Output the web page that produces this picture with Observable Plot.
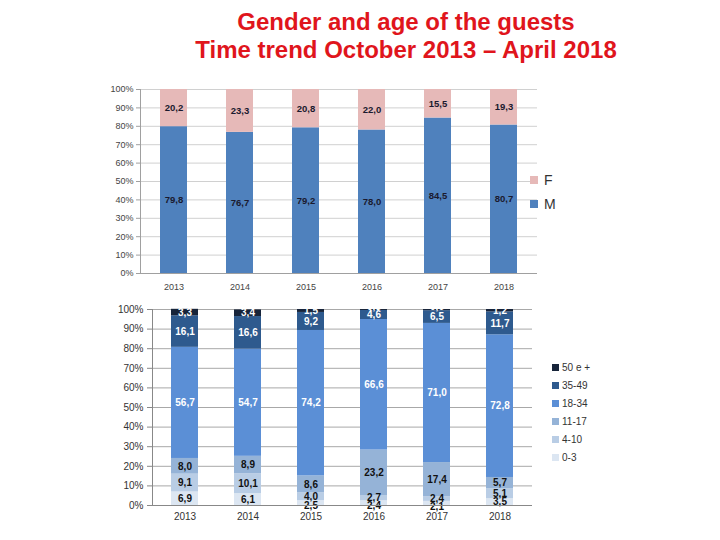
<!DOCTYPE html>
<html><head><meta charset="utf-8">
<script src="https://cdn.jsdelivr.net/npm/d3@7"></script>
<script src="https://cdn.jsdelivr.net/npm/@observablehq/plot@0.6"></script>
<style>
body{margin:0;background:#fff;font-family:"Liberation Sans",Arial,sans-serif;}
#wrap{position:relative;width:720px;height:540px;overflow:hidden;}
.title{position:absolute;left:0;width:812px;text-align:center;color:#e0151c;font-weight:bold;font-size:24px;line-height:28px;}
.lg{position:absolute;display:flex;align-items:center;color:#333;}
.sw{display:inline-block;}
</style></head>
<body><div id="wrap">
<div class="title" style="top:8px">Gender and age of the guests<br>Time trend October 2013 – April 2018</div>
</div>
<script>
const years = ["2013","2014","2015","2016","2017","2018"];
const genderGroups = ["M","F"];
const genderM = [79.8, 76.7, 79.2, 78.0, 84.5, 80.7];
const genderF = [20.2, 23.3, 20.8, 22.0, 15.5, 19.3];
const genderColors = ["#4f81bd","#e6b9b8"];

const ageGroups = ["0-3","4-10","11-17","18-34","35-49","50 e +"];
const age0_3   = [6.9, 6.1, 2.5, 2.4, 2.1, 3.5];
const age4_10  = [9.1, 10.1, 4.0, 2.7, 2.4, 5.1];
const age11_17 = [8.0, 8.9, 8.6, 23.2, 17.4, 5.7];
const age18_34 = [56.7, 54.7, 74.2, 66.6, 71.0, 72.8];
const age35_49 = [16.1, 16.6, 9.2, 4.6, 6.5, 11.7];
const age50p   = [3.3, 3.4, 1.5, 0.5, 0.6, 1.2];
const ageColors = ["#dce6f2","#b9cde5","#95b3d7","#5b8fd6","#2e5a8e","#17243a"];
const ageWhiteLabels = ["18-34","35-49","50 e +"];

const pctTicks = [0,10,20,30,40,50,60,70,80,90,100];

const fmt = v => d3.format(".1f")(v).replace(".", ",");
const genderData = [];
[genderM, genderF].forEach((arr, gi) => arr.forEach((v, i) => genderData.push({year: years[i], group: genderGroups[gi], value: v})));
const ageData = [];
[age0_3, age4_10, age11_17, age18_34, age35_49, age50p].forEach((arr, gi) => arr.forEach((v, i) => ageData.push({year: years[i], group: ageGroups[gi], value: v})));

const wrap = document.getElementById("wrap");

// Top chart
const topChart = Plot.plot({
  width: 720, height: 215,
  marginLeft: 140, marginRight: 183, marginTop: 9, marginBottom: 22,
  style: {fontFamily: "'Liberation Sans', Arial, sans-serif", fontSize: "9px", color: "#444", background: "transparent"},
  x: {domain: years, paddingInner: 0.59, paddingOuter: 0.295, label: null},
  y: {domain: [0, 100], ticks: pctTicks, label: null},
  color: {domain: genderGroups, range: genderColors},
  marks: [
    Plot.gridY(pctTicks, {stroke: "#d0d0d0", strokeOpacity: 1}),
    Plot.barY(genderData, {x: "year", y: "value", fill: "group", order: genderGroups}),
    Plot.text(genderData, Plot.stackY({x: "year", y: "value", z: "group", order: genderGroups, text: d => fmt(d.value), fill: "#1a1a2e", fontWeight: "bold", fontSize: 9.5})),
    Plot.ruleY([0], {stroke: "#a0a0a0"}),
    Plot.frame({anchor: "left", stroke: "#a0a0a0"}),
    Plot.axisY(pctTicks, {tickFormat: d => d + "%", tickSize: 4, tickPadding: 3, stroke: "#a0a0a0", fill: "#444"}),
    Plot.axisX({tickSize: 0, tickPadding: 10, fill: "#444"})
  ]
});
topChart.style.position = "absolute"; topChart.style.left = "0px"; topChart.style.top = "80px";
wrap.appendChild(topChart);

// Bottom chart
const stackOpts = (text, extra) => Plot.stackY({x: "year", y: "value", z: "group", order: ageGroups, text, fontWeight: "bold", fontSize: 10, ...extra});
const botChart = Plot.plot({
  width: 720, height: 225,
  marginLeft: 152, marginRight: 188, marginTop: 9, marginBottom: 20,
  style: {fontFamily: "'Liberation Sans', Arial, sans-serif", fontSize: "10px", color: "#444", background: "transparent", overflow: "visible"},
  x: {domain: years, paddingInner: 0.57, paddingOuter: 0.285, label: null},
  y: {domain: [0, 100], ticks: pctTicks, label: null},
  color: {domain: ageGroups, range: ageColors},
  marks: [
    Plot.gridY(pctTicks, {stroke: "#a8a8a8", strokeOpacity: 1}),
    Plot.barY(ageData, {x: "year", y: "value", fill: "group", order: ageGroups}),
    // dark labels on light segments
    Plot.text(ageData, stackOpts(d => (!ageWhiteLabels.includes(d.group) && !(d.group === "0-3" && d.value < 3)) ? fmt(d.value) : null, {fill: "#111"})),
    // small 0-3 labels nudged down (as in the original)
    Plot.text(ageData, stackOpts(d => (d.group === "0-3" && d.value < 3) ? fmt(d.value) : null, {fill: "#111", dy: 3})),
    // white labels on dark segments
    Plot.text(ageData, stackOpts(d => (ageWhiteLabels.includes(d.group) && !(d.group === "50 e +" && d.value < 1)) ? fmt(d.value) : null, {fill: "white"})),
    // tiny 50+ labels nudged up
    Plot.text(ageData, stackOpts(d => (d.group === "50 e +" && d.value < 1) ? fmt(d.value) : null, {fill: "white", dy: -3})),
    Plot.ruleY([0], {stroke: "#888"}),
    Plot.frame({anchor: "left", stroke: "#888"}),
    Plot.axisY(pctTicks, {tickFormat: d => d + "%", tickSize: 5, tickPadding: 4, stroke: "#888", fill: "#333"}),
    Plot.axisX({tickSize: 0, tickPadding: 7, fill: "#333"})
  ]
});
botChart.style.position = "absolute"; botChart.style.left = "0px"; botChart.style.top = "300px";
wrap.appendChild(botChart);

// Legends
const topLeg = [{g: "F", y: 172}, {g: "M", y: 196}];
topLeg.forEach(d => {
  const el = document.createElement("div");
  el.className = "lg"; el.style.left = "530px"; el.style.top = d.y + "px"; el.style.fontSize = "14px";
  el.innerHTML = `<span class="sw" style="width:8px;height:8px;background:${genderColors[genderGroups.indexOf(d.g)]};margin-right:6px"></span>${d.g}`;
  wrap.appendChild(el);
});
const botOrder = ageGroups.slice().reverse();
botOrder.forEach((g, i) => {
  const el = document.createElement("div");
  el.className = "lg"; el.style.left = "552px"; el.style.top = (362 + i * 18) + "px"; el.style.fontSize = "10px";
  el.innerHTML = `<span class="sw" style="width:7px;height:7px;background:${ageColors[ageGroups.indexOf(g)]};margin-right:3px"></span>${g}`;
  wrap.appendChild(el);
});
</script>
</body></html>
